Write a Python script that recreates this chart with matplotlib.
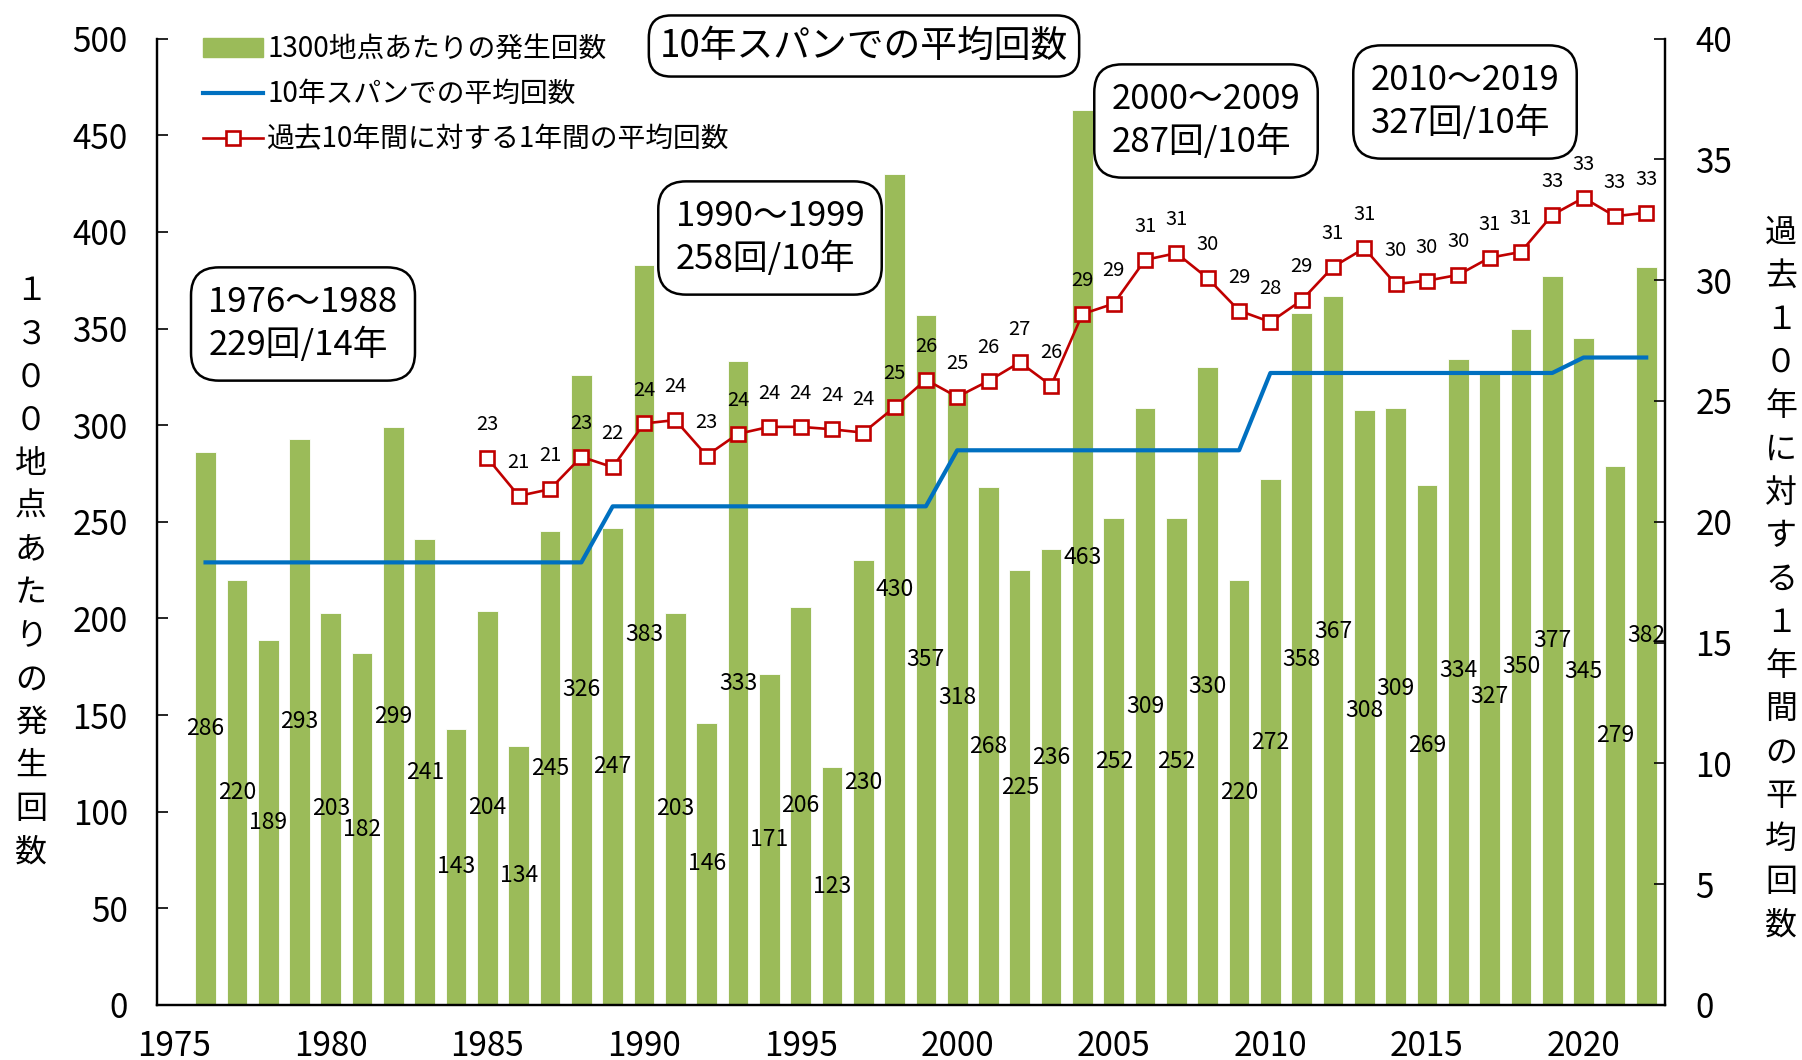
import numpy as np
import matplotlib
matplotlib.use("Agg")
import matplotlib.pyplot as plt
from matplotlib.lines import Line2D
from matplotlib.patches import Patch

plt.rcParams['font.family'] = ['Noto Sans CJK JP', 'DejaVu Sans']

# data
years = list(range(1976, 2023))
counts = [286, 220, 189, 293, 203, 182, 299, 241, 143, 204, 134, 245, 326,
          247, 383, 203, 146, 333, 171, 206, 123, 230, 430, 357, 318, 268,
          225, 236, 463, 252, 309, 252, 330, 220, 272, 358, 367, 308, 309,
          269, 334, 327, 350, 377, 345, 279, 382]
span_avg = [229] * 13 + [258] * 11 + [287] * 10 + [327] * 10 + [335] * 3
avg_years = list(range(1985, 2023))
avg_10y = [22.64, 21.07, 21.35, 22.69, 22.26, 24.07, 24.21, 22.74, 23.64,
           23.93, 23.93, 23.83, 23.69, 24.74, 25.88, 25.17, 25.83, 26.60,
           25.64, 28.60, 29.03, 30.84, 31.12, 30.08, 28.74, 28.27, 29.17,
           30.55, 31.32, 29.84, 29.98, 30.22, 30.93, 31.17, 32.70, 33.41,
           32.65, 32.79]
xticks = list(range(1975, 2021, 5))
boxes = [("1976～1988\n229回/14年", 303, 324),
         ("1990～1999\n258回/10年", 770, 238),
         ("2000～2009\n287回/10年", 1206, 121),
         ("2010～2019\n327回/10年", 1465, 102)]
ylabel_left = "１３００地点あたりの発生回数"
ylabel_right = "過去１０年に対する１年間の平均回数"

# bar labels that were dragged off the bar middle in the original (value units)
label_nudge = {2003: 10, 2012: 10, 2013: -1.5, 2014: 9, 2016: 6, 2017: -4}

W, H = 1802, 1060
fig = plt.figure(figsize=(W / 100, H / 100), dpi=100)
ax = fig.add_axes([157 / W, 1 - 1005 / H, (1665 - 157) / W, (1005 - 38.6) / H])
ax2 = ax.twinx()

green = "#9BBB59"
blue = "#0070C0"
red = "#C00000"

ax.bar(years, counts, width=0.66, color=green, edgecolor="white", linewidth=0.6, zorder=2)
for x, v in zip(years, counts):
    ax.text(x, v / 2 + label_nudge.get(x, 0), str(v), ha="center", va="center",
            fontsize=16.5, zorder=5, clip_on=False)
ax.plot(years, span_avg, color=blue, lw=3, zorder=3)

ax2.plot(avg_years, avg_10y, color=red, lw=1.9, marker="s", ms=10.5,
         mfc="white", mec=red, mew=1.9, zorder=4)
for x, v in zip(avg_years, avg_10y):
    ax2.annotate(f"{v:.0f}", (x, v), xytext=(0, 24), textcoords="offset points",
                 ha="center", va="center", fontsize=14.5)

ax.set_xlim(1974.45, 2022.6)
ax.set_ylim(0, 500)
ax2.set_ylim(0, 40)
ax.set_yticks(range(0, 501, 50))
ax2.set_yticks(range(0, 41, 5))
ax.set_xticks(xticks)
ax.tick_params(axis="x", length=0, labelsize=24, pad=17)
ax.tick_params(axis="y", direction="in", length=8, width=1.2, labelsize=24, pad=21)
ax2.tick_params(axis="y", direction="in", length=8, width=1.2, labelsize=24, pad=22)
for a in (ax, ax2):
    a.spines["top"].set_visible(False)
    for s in ("left", "right", "bottom"):
        a.spines[s].set_linewidth(1.6)
ax2.patch.set_visible(False)

# stacked vertical axis titles
for i, ch in enumerate(ylabel_left):
    fig.text(31 / W, 1 - (291 + i * 43.2) / H, ch, ha="center", va="center", fontsize=23)
for i, ch in enumerate(ylabel_right):
    fig.text(1781 / W, 1 - (233 + i * 43.3) / H, ch, ha="center", va="center", fontsize=23)

box_style = dict(boxstyle="round,pad=0.5,rounding_size=0.8", fc="white", ec="black", lw=1.8)
fig.text(864 / W, 1 - 46 / H, "10年スパンでの平均回数", ha="center", va="center",
         fontsize=26.5, bbox=dict(boxstyle="round,pad=0.3,rounding_size=0.6",
                                  fc="white", ec="black", lw=1.8))
for txt, x, y in boxes:
    fig.text(x / W, 1 - y / H, txt, ha="center", va="center", fontsize=25,
             linespacing=1.3, multialignment="left", bbox=box_style)

handles = [Patch(color=green),
           Line2D([], [], color=blue, lw=3),
           Line2D([], [], color=red, lw=1.9, marker="s", ms=10, mfc="white", mec=red, mew=1.9)]
labels = ["1300地点あたりの発生回数", "10年スパンでの平均回数", "過去10年間に対する1年間の平均回数"]
fig.legend(handles, labels, loc="upper left", bbox_to_anchor=(192 / W, 1 - 23 / H),
           frameon=False, fontsize=20, handlelength=2.15, handletextpad=0.15,
           labelspacing=0.55, borderaxespad=0)

fig.savefig("out.png", dpi=100)
